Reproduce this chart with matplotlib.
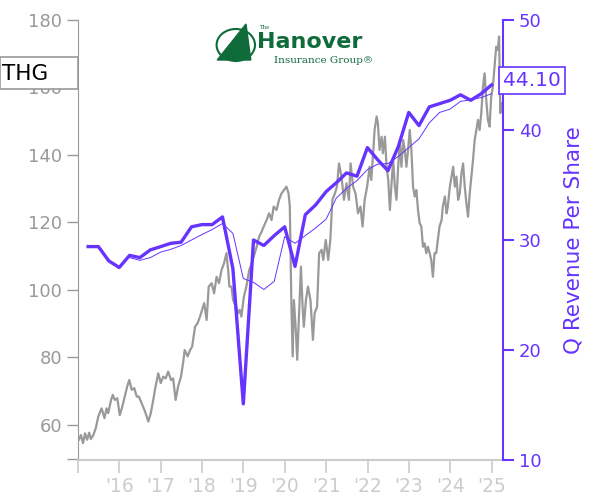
import numpy as np
import pandas as pd
import matplotlib
matplotlib.use('Agg')
import matplotlib.pyplot as plt
from matplotlib.patches import Rectangle
import matplotlib.transforms as mtransforms

# precio de cierre THG (años decimales)
anios_precio = [2015.02, 2015.07, 2015.12, 2015.17, 2015.22, 2015.27, 2015.31, 2015.37, 2015.43, 2015.49,
                2015.57, 2015.64, 2015.69, 2015.73, 2015.80, 2015.84, 2015.89, 2015.95, 2016.01, 2016.07,
                2016.14, 2016.19, 2016.24, 2016.30, 2016.36, 2016.42, 2016.47, 2016.54, 2016.62, 2016.70,
                2016.76, 2016.82, 2016.86, 2016.94, 2017.00, 2017.06, 2017.12, 2017.18, 2017.25, 2017.30,
                2017.36, 2017.42, 2017.49, 2017.54, 2017.58, 2017.65, 2017.71, 2017.76, 2017.83, 2017.89,
                2017.95, 2018.00, 2018.05, 2018.11, 2018.16, 2018.23, 2018.29, 2018.35, 2018.41, 2018.47,
                2018.53, 2018.59, 2018.63, 2018.66, 2018.71, 2018.75, 2018.82, 2018.87, 2018.91, 2018.95,
                2019.01, 2019.07, 2019.14, 2019.20, 2019.25, 2019.32, 2019.38, 2019.44, 2019.49, 2019.56,
                2019.62, 2019.68, 2019.73, 2019.80, 2019.86, 2019.92, 2019.98, 2020.04, 2020.09, 2020.12,
                2020.16, 2020.19, 2020.22, 2020.27, 2020.30, 2020.35, 2020.39, 2020.43, 2020.46, 2020.51,
                2020.56, 2020.62, 2020.68, 2020.72, 2020.78, 2020.83, 2020.89, 2020.93, 2020.99, 2021.05,
                2021.10, 2021.15, 2021.21, 2021.26, 2021.31, 2021.37, 2021.43, 2021.49, 2021.55, 2021.59,
                2021.65, 2021.71, 2021.77, 2021.83, 2021.88, 2021.93, 2021.99, 2022.05, 2022.09, 2022.13,
                2022.17, 2022.22, 2022.25, 2022.29, 2022.34, 2022.37, 2022.42, 2022.46, 2022.50, 2022.54,
                2022.58, 2022.62, 2022.66, 2022.70, 2022.74, 2022.78, 2022.82, 2022.86, 2022.90, 2022.94,
                2022.98, 2023.02, 2023.06, 2023.10, 2023.14, 2023.18, 2023.22, 2023.26, 2023.30, 2023.34,
                2023.38, 2023.42, 2023.46, 2023.50, 2023.54, 2023.58, 2023.62, 2023.66, 2023.70, 2023.74,
                2023.79, 2023.82, 2023.87, 2023.91, 2023.94, 2023.99, 2024.03, 2024.07, 2024.11, 2024.15,
                2024.19, 2024.23, 2024.27, 2024.31, 2024.35, 2024.39, 2024.43, 2024.47, 2024.51, 2024.55,
                2024.59, 2024.63, 2024.67, 2024.71, 2024.75, 2024.79, 2024.83, 2024.87, 2024.91, 2024.95,
                2024.99, 2025.03, 2025.07, 2025.11, 2025.15, 2025.18, 2025.21, 2025.23]
precio = [55.6, 57.0, 54.6, 57.5, 55.6, 57.7, 55.8, 57.0, 59.0, 62.5,
          64.9, 62.0, 64.9, 63.5, 67.4, 68.9, 67.4, 67.9, 62.9, 65.4,
          68.9, 71.4, 73.3, 70.4, 70.9, 68.4, 68.4, 66.4, 64.0, 61.0,
          63.5, 67.4, 70.4, 75.3, 72.4, 74.3, 73.8, 75.8, 73.3, 73.8,
          67.4, 71.4, 74.3, 78.3, 82.2, 80.3, 82.2, 83.2, 89.1, 90.1,
          92.1, 94.1, 96.1, 91.1, 101.0, 102.0, 99.0, 103.9, 102.0, 105.9,
          107.9, 110.9, 105.9, 101.0, 101.0, 97.0, 95.0, 93.1, 94.1, 92.1,
          98.0, 101.0, 105.9, 107.9, 109.9, 112.8, 115.8, 117.3, 118.8, 120.7,
          122.7, 120.7, 124.7, 123.7, 126.7, 128.6, 129.6, 130.6, 128.6, 125.0,
          95.0, 80.3, 97.0, 87.2, 79.3, 95.0, 106.9, 95.0, 89.1, 97.0,
          101.0, 97.0, 85.2, 93.1, 95.0, 110.9, 111.9, 108.9, 114.8, 108.9,
          114.8, 126.7, 128.6, 130.6, 137.5, 133.6, 126.7, 131.6, 126.7, 137.5,
          130.6, 128.6, 122.7, 124.7, 118.8, 126.7, 130.6, 136.5, 132.6, 139.5,
          147.4, 151.4, 149.4, 141.5, 145.4, 140.5, 145.4, 136.5, 132.6, 123.7,
          131.6, 138.5, 130.6, 126.7, 136.5, 143.5, 136.5, 144.4, 141.5, 136.5,
          141.5, 147.4, 141.5, 130.6, 127.7, 129.6, 123.7, 119.8, 118.8, 112.8,
          113.8, 110.9, 112.8, 111.0, 108.9, 103.9, 110.9, 110.9, 114.8, 118.8,
          120.7, 124.7, 127.7, 122.7, 124.7, 130.6, 133.6, 136.5, 130.6, 133.6,
          126.7, 128.6, 134.6, 137.5, 130.6, 125.7, 121.7, 128.6, 133.6, 138.5,
          144.4, 147.4, 150.4, 147.4, 152.4, 160.2, 164.2, 156.3, 150.4, 148.4,
          157.3, 160.2, 166.2, 172.1, 171.1, 175.1, 152.4, 155.3]

# ingresos trimestrales por acción
trimestres = pd.date_range('2015-03-31', '2024-12-31', freq='QE')
ingreso_q = [29.4, 29.4, 28.1, 27.5, 28.6, 28.4, 29.1, 29.4, 29.7, 29.8,
             31.2, 31.4, 31.4, 32.1, 27.4, 15.1, 30.0, 29.5, 30.4, 31.2,
             27.6, 32.3, 33.2, 34.4, 35.2, 36.1, 35.8, 38.4, 37.3, 36.3,
             38.5, 41.6, 40.4, 42.1, 42.4, 42.7, 43.2, 42.7, 43.3, 44.1]
# promedio de 4 trimestres (línea delgada), desde 2016 Q1
ingreso_prom = [28.4, 28.15, 28.4, 28.9, 29.15, 29.5, 30.0, 30.5, 30.95, 31.5,
                30.6, 26.5, 26.15, 25.5, 26.25, 30.3, 29.7, 30.4, 31.1, 31.9,
                33.8, 34.7, 35.4, 36.4, 36.9, 36.95, 37.6, 38.4, 39.2, 40.65,
                41.6, 41.9, 42.6, 42.75, 42.95, 43.3]

anios_tick = list(range(2015, 2026))
etiquetas_tick = [''] + ["'" + str(a)[2:] for a in range(2016, 2026)]

def a_decimal(fechas):
    return np.array([f.year + (f.dayofyear - 1) / 365.25 for f in fechas])

x_q = a_decimal(trimestres)

gris = '#999999'
gris_claro = '#cccccc'
morado = '#6633ff'

fig = plt.figure(figsize=(6, 5), dpi=100)
ax = fig.add_axes([0.13, 0.08, 0.708, 0.88])
ax2 = ax.twinx()

ax.plot(anios_precio, precio, color=gris, lw=1.6, zorder=2)
ax.set_ylim(49.6, 180)
ax.set_xlim(2015.0, 2025.27)
ax.set_yticks([60, 80, 100, 120, 140, 160, 180])
ax.set_yticks([50], minor=True)
ax.tick_params(axis='y', which='both', colors=gris, labelsize=13, length=8, width=1)
ax.set_xticks(anios_tick)
ax.set_xticklabels(etiquetas_tick)
ax.tick_params(axis='x', colors=gris_claro, labelsize=13.5, length=9, width=1.2)
ax.spines['left'].set_color(gris)
ax.spines['bottom'].set_color(gris_claro)
ax.spines['bottom'].set_linewidth(1.5)
ax.spines['top'].set_visible(False)
ax.spines['right'].set_visible(False)

ax2.plot(x_q, ingreso_q, color=morado, lw=2.4, zorder=3)
ax2.plot(x_q[4:], ingreso_prom, color=morado, lw=0.7, zorder=3)
ax2.set_ylim(10, 50)
ax2.set_yticks([10, 20, 30, 40, 50])
ax2.tick_params(axis='y', colors=morado, labelsize=13, length=8, width=1.5)
ax2.spines['right'].set_color(morado)
ax2.spines['right'].set_linewidth(1.5)
ax2.spines['left'].set_visible(False)
ax2.spines['top'].set_visible(False)
ax2.spines['bottom'].set_visible(False)
ax2.set_ylabel('Q Revenue Per Share', color=morado, fontsize=15.5, labelpad=16)

# caja con el último valor
trans = mtransforms.blended_transform_factory(ax2.transAxes, ax2.transData)
ax2.text(1.0, ingreso_q[-1] + 0.4, '%.2f' % ingreso_q[-1], transform=trans, ha='left', va='center',
         fontsize=14.5, color=morado, clip_on=False,
         bbox=dict(boxstyle='square,pad=0.2', fc='white', ec=morado, lw=1.2))

# etiqueta del ticker
fig.patches.append(Rectangle((0.0, 1 - 89 / 500), 78 / 600, 32 / 500, transform=fig.transFigure,
                             facecolor='white', edgecolor=gris, lw=1.2))
fig.text(0.004, 1 - 74 / 500, 'THG', fontsize=15.5, color='black', va='center', ha='left')

# logo (aproximado en texto)
verde = '#0f6b3a'
fig.text(0.428, 1 - 48 / 500, 'Hanover', fontsize=16, fontweight='bold', color=verde, ha='left', va='baseline')
fig.text(0.432, 1 - 29 / 500, 'The', fontsize=4, color=verde, ha='left', va='baseline', family='DejaVu Serif')
fig.text(0.457, 1 - 63 / 500, 'Insurance Group®', fontsize=7.5, color=verde, ha='left', va='baseline',
         family='DejaVu Serif')
logo = plt.Circle((0.393, 1 - 45 / 500), 0.032, transform=fig.transFigure, fill=False, ec=verde, lw=1.5)
fig.patches.append(logo)
fig.patches.append(plt.Polygon([[0.362, 1 - 60 / 500], [0.41, 1 - 24 / 500], [0.418, 1 - 60 / 500]],
                               closed=True, transform=fig.transFigure, fc=verde, ec=verde))

fig.savefig('out.png', dpi=100)
